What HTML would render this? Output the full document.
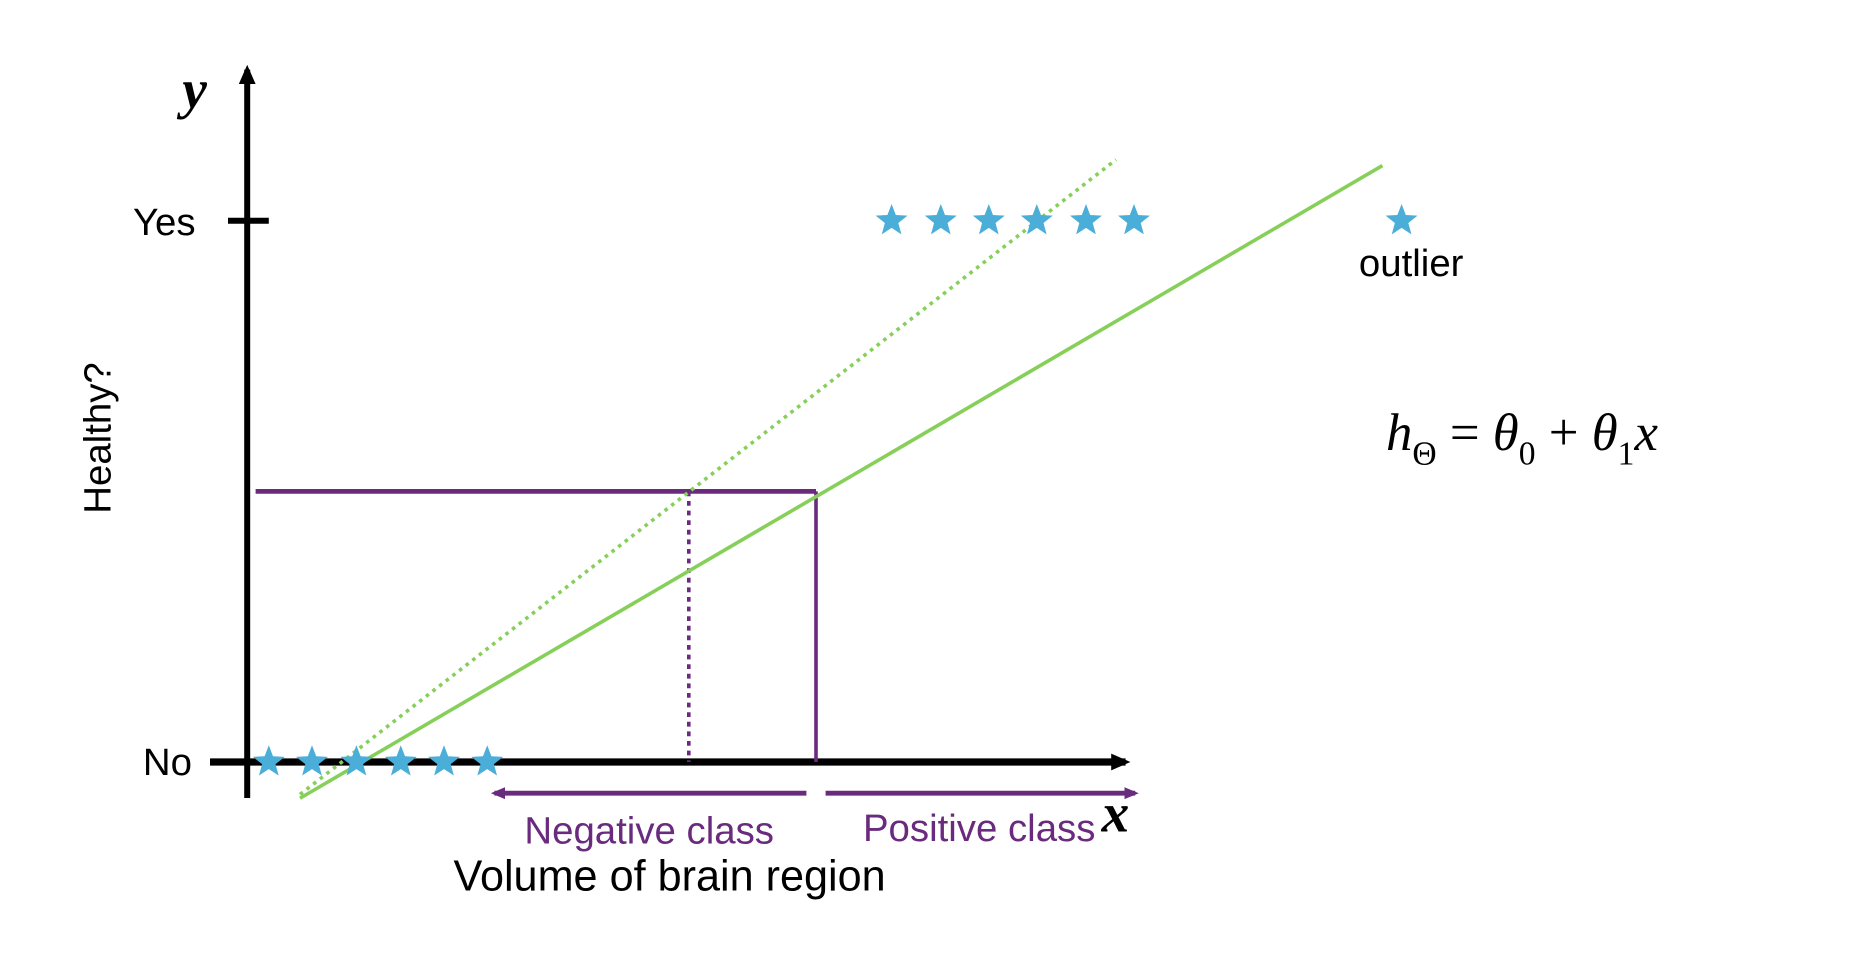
<!DOCTYPE html>
<html><head><meta charset="utf-8"><style>
html,body{margin:0;padding:0;background:#fff}
svg{display:block}
text{font-family:"Liberation Sans",sans-serif}
text.serif, text.serif tspan{font-family:"Liberation Serif",serif}
</style></head><body>
<svg id="chart" width="1872" height="962" viewBox="0 0 1560 801.67" xmlns="http://www.w3.org/2000/svg">
<defs>
<marker id="ah" markerWidth="16" markerHeight="16" refX="12" refY="8" orient="auto" markerUnits="userSpaceOnUse"><path d="M0,1 L16,8 L0,15 z" fill="#000"/></marker>
<marker id="ap" markerWidth="12" markerHeight="12" refX="9" refY="6" orient="auto" markerUnits="userSpaceOnUse"><path d="M0,1 L12,6 L0,11 z" fill="#6a2a7e"/></marker>
</defs>
<g id="axes">
<line x1="206" y1="665" x2="206" y2="58" stroke="#000" stroke-width="5" marker-end="url(#ah)"/>
<line x1="175" y1="635" x2="938" y2="635" stroke="#000" stroke-width="6" marker-end="url(#ah)"/>
<line x1="190" y1="184" x2="224" y2="184" stroke="#000" stroke-width="5"/>
<text x="163" y="196" font-size="32" text-anchor="end">Yes</text>
<text x="160" y="646" font-size="32" text-anchor="end">No</text>
<text class="serif" x="152" y="90" font-size="46" font-weight="bold" font-style="italic">y</text>
<text class="serif" x="918" y="693" font-size="46" font-weight="bold" font-style="italic">x</text>
<text transform="translate(92,365) rotate(-90)" font-size="32" text-anchor="middle">Healthy?</text>
<text x="558" y="742" font-size="36" text-anchor="middle">Volume of brain region</text>
</g>
<g id="marks"></g>
<g id="annot">
<line x1="672" y1="661" x2="412" y2="661" stroke="#6a2a7e" stroke-width="4" marker-end="url(#ap)"/>
<line x1="688" y1="661" x2="946" y2="661" stroke="#6a2a7e" stroke-width="4" marker-end="url(#ap)"/>
<text x="541" y="703" font-size="32" fill="#6a2a7e" text-anchor="middle">Negative class</text>
<text x="816" y="701" font-size="32" fill="#6a2a7e" text-anchor="middle">Positive class</text>
<text x="1176" y="230" font-size="32" text-anchor="middle">outlier</text>
<text class="serif" x="1155" y="375" font-size="44" font-style="italic">h<tspan font-size="28" dy="12" font-style="normal">Θ</tspan><tspan dy="-12" font-style="normal"> = </tspan>θ<tspan font-size="28" dy="12" font-style="normal">0</tspan><tspan dy="-12" font-style="normal"> + </tspan>θ<tspan font-size="28" dy="12" font-style="normal">1</tspan><tspan dy="-12">x</tspan></text>
</g>
</svg>
<script>
const noStarsX = [1.8, 5.4, 9.1, 12.8, 16.4, 20.0];
const yesStarsX = [53.7, 57.8, 61.8, 65.8, 69.9, 73.9];
const outlierX = [96.2];
const fitSolid = [[4.4, -0.067], [94.6, 1.102]];
const fitDotted = [[4.4, -0.06], [72.4, 1.113]];
const threshold = 0.5;
const crossSolid = 47.4;
const crossDotted = 36.8;

function sx(v){ return 206 + v*10; }
function sy(v){ return 635 - v*451; }
const NS = 'http://www.w3.org/2000/svg';
const g = document.getElementById('marks');
function mk(tag, attrs){ const e = document.createElementNS(NS, tag); for (const k in attrs) e.setAttribute(k, attrs[k]); g.appendChild(e); return e; }
function starPath(cx, cy, r){
  let d=''; for(let i=0;i<10;i++){ const a=-Math.PI/2+i*Math.PI/5; const rr=i%2?r*0.42:r; d+=(i?'L':'M')+(cx+rr*Math.cos(a)).toFixed(1)+','+(cy+rr*Math.sin(a)).toFixed(1);} return d+'Z';
}
let e;
e = mk('line',{x1:213,y1:sy(threshold),x2:sx(crossSolid),y2:sy(threshold),stroke:'#6a2a7e','stroke-width':4});


e = mk('line',{x1:sx(crossSolid),y1:sy(threshold),x2:sx(crossSolid),y2:sy(0),stroke:'#6a2a7e','stroke-width':3});


e = mk('line',{x1:sx(crossDotted),y1:sy(threshold),x2:sx(crossDotted),y2:sy(0),stroke:'#6a2a7e','stroke-width':3,'stroke-dasharray':'4,4'});


e = mk('line',{x1:sx(fitSolid[0][0]),y1:sy(fitSolid[0][1]),x2:sx(fitSolid[1][0]),y2:sy(fitSolid[1][1]),stroke:'#86d05a','stroke-width':3});


e = mk('line',{x1:sx(fitDotted[0][0]),y1:sy(fitDotted[0][1]),x2:sx(fitDotted[1][0]),y2:sy(fitDotted[1][1]),stroke:'#86d05a','stroke-width':3,'stroke-dasharray':'3,4'});


noStarsX.forEach(v=>{ const s=mk('path',{d:starPath(sx(v),sy(0),14),fill:'#4aaed8'});
  
   });
yesStarsX.forEach(v=>{ const s=mk('path',{d:starPath(sx(v),sy(1),14),fill:'#4aaed8'});
  
   });
outlierX.forEach(v=>{ const s=mk('path',{d:starPath(sx(v),sy(1),14),fill:'#4aaed8'});
  
   });
</script>
</body></html>
